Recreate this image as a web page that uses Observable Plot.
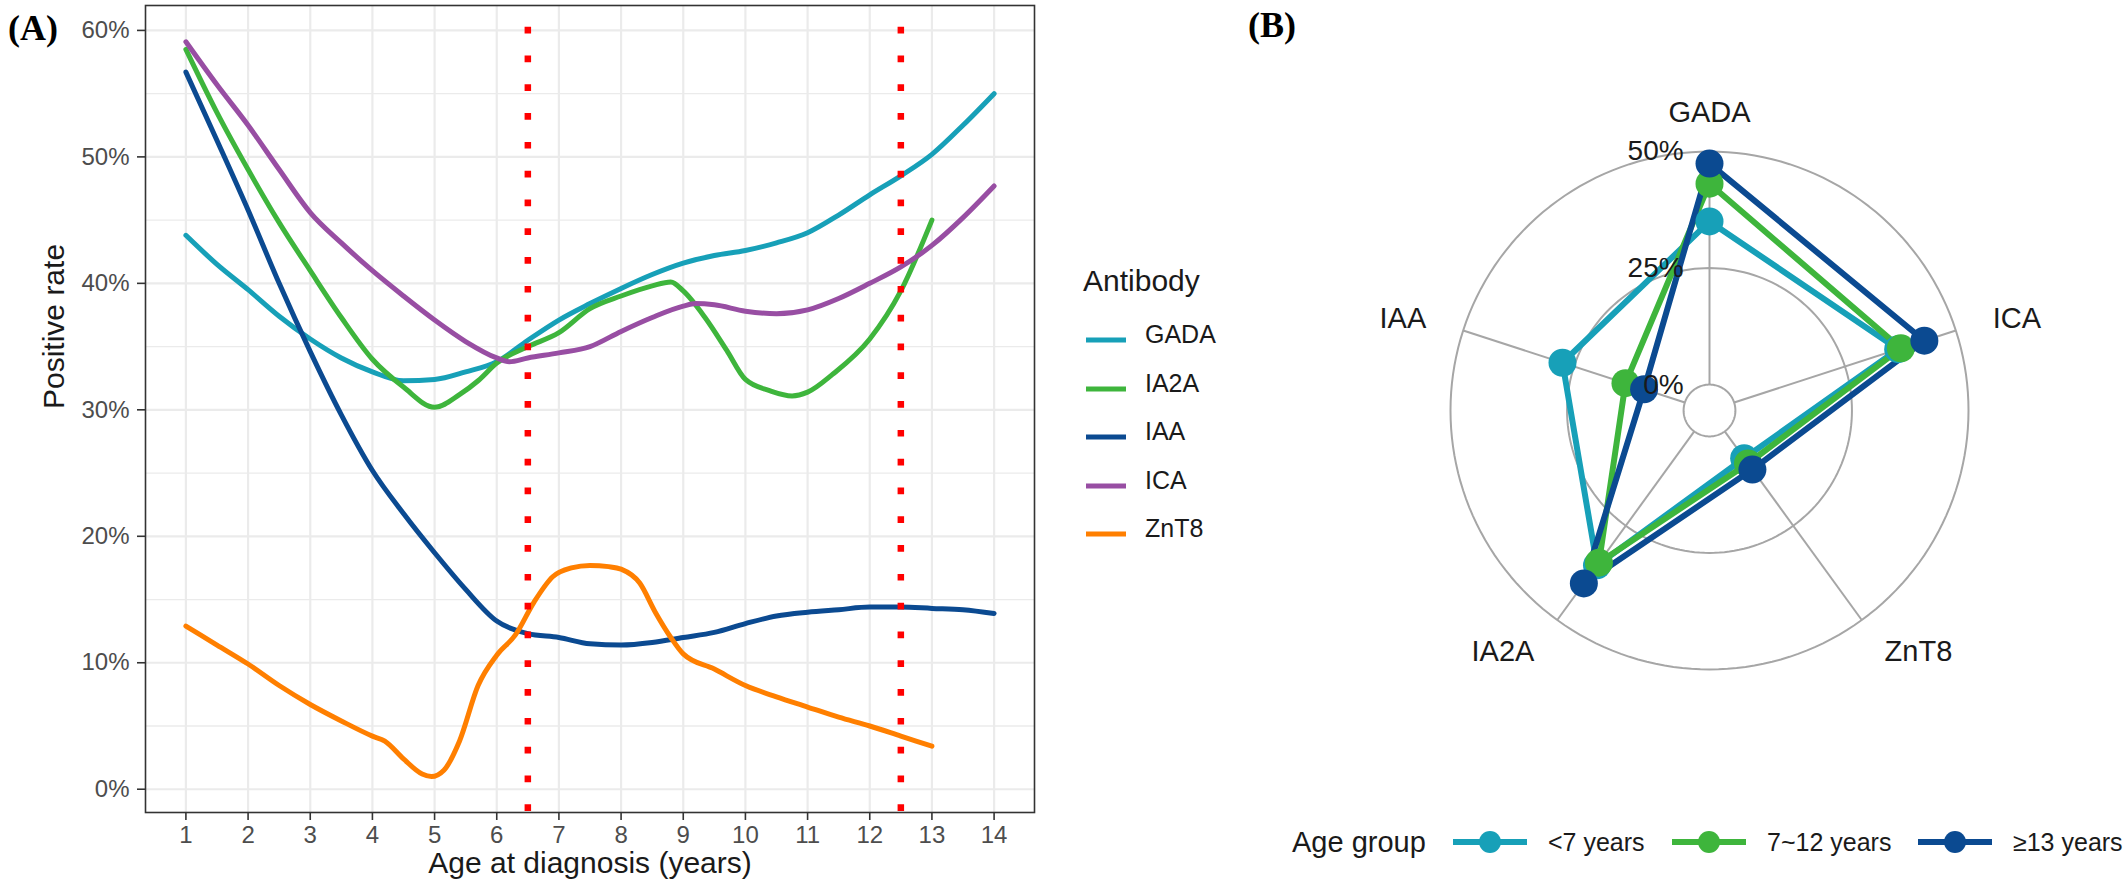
<!DOCTYPE html>
<html><head><meta charset="utf-8">
<script src="https://cdn.jsdelivr.net/npm/d3@7"></script>
<script src="https://cdn.jsdelivr.net/npm/@observablehq/plot@0.6"></script>
<style>
html,body{margin:0;padding:0;background:#fff;}
#root{position:relative;width:2128px;height:890px;overflow:hidden;font-family:"Liberation Sans",Arial,sans-serif;color:#1a1a1a;}
.abs{position:absolute;white-space:nowrap;}
.mid{transform:translateY(-50%);}
</style></head><body><div id="root"></div>
<script>
// ---------- Panel A data ----------
const antibodies = ["GADA", "IA2A", "IAA", "ICA", "ZnT8"];
const antibodyColors = ["#17a0b8", "#3eb53c", "#0b4a91", "#984ea3", "#ff7f00"];

const gadaAge  = [1, 1.5, 2, 2.5, 3, 3.5, 4, 4.5, 5, 5.5, 6, 6.5, 7, 7.5, 8, 8.5, 9, 9.5, 10, 10.5, 11, 11.5, 12, 12.5, 13, 13.5, 14];
const gadaRate = [43.8, 41.5, 39.5, 37.4, 35.6, 34.1, 33.0, 32.3, 32.4, 33.0, 33.8, 35.5, 37.1, 38.4, 39.6, 40.7, 41.6, 42.2, 42.6, 43.2, 44.0, 45.4, 47.0, 48.5, 50.2, 52.5, 55.0];

const ia2aAge  = [1, 1.5, 2, 2.5, 3, 3.5, 4, 4.5, 5, 5.4, 5.7, 6, 6.5, 7, 7.5, 8, 8.5, 8.8, 9, 9.35, 9.7, 10, 10.4, 10.75, 11, 11.4, 12, 12.5, 13];
const ia2aRate = [58.5, 53.5, 49.0, 44.8, 41.0, 37.3, 34.0, 31.8, 30.2, 31.2, 32.3, 33.7, 35.0, 36.1, 38.0, 39.0, 39.8, 40.1, 39.4, 37.3, 34.7, 32.4, 31.5, 31.1, 31.4, 32.8, 35.6, 39.4, 45.0];

const iaaAge  = [1, 1.5, 2, 2.5, 3, 3.5, 4, 4.5, 5, 5.5, 6, 6.5, 7, 7.5, 8, 8.5, 9, 9.5, 10, 10.5, 11, 11.5, 12, 12.5, 13, 13.5, 14];
const iaaRate = [56.7, 51.3, 45.8, 40.0, 34.6, 29.6, 25.2, 21.8, 18.7, 15.8, 13.3, 12.3, 12.0, 11.5, 11.4, 11.6, 12.0, 12.4, 13.1, 13.7, 14.0, 14.2, 14.4, 14.4, 14.3, 14.2, 13.9];

const icaAge  = [1, 1.5, 2, 2.5, 3, 3.5, 4, 4.5, 5, 5.5, 6, 6.2, 6.5, 7, 7.5, 8, 8.5, 9, 9.2, 9.5, 10, 10.5, 11, 11.5, 12, 12.5, 13, 13.5, 14];
const icaRate = [59.1, 55.7, 52.5, 49.0, 45.6, 43.2, 41.0, 39.0, 37.1, 35.4, 34.1, 33.8, 34.1, 34.5, 35.0, 36.2, 37.3, 38.2, 38.4, 38.3, 37.8, 37.6, 37.9, 38.8, 40.0, 41.3, 43.0, 45.2, 47.7];

const znt8Age  = [1, 1.5, 2, 2.5, 3, 3.5, 4, 4.2, 4.5, 4.8, 4.95, 5.15, 5.4, 5.7, 6, 6.3, 6.6, 6.9, 7.2, 7.5, 7.8, 8, 8.3, 8.55, 8.8, 9, 9.5, 10, 10.5, 11, 11.5, 12, 12.5, 13];
const znt8Rate = [12.9, 11.4, 9.9, 8.2, 6.7, 5.4, 4.2, 3.8, 2.4, 1.2, 1.0, 1.5, 3.8, 8.2, 10.6, 12.2, 14.8, 16.8, 17.5, 17.7, 17.6, 17.4, 16.3, 14.0, 12.0, 10.7, 9.5, 8.2, 7.3, 6.5, 5.7, 5.0, 4.2, 3.4];

const cutoffAges = [6.5, 12.5];
const xTicks = [1, 2, 3, 4, 5, 6, 7, 8, 9, 10, 11, 12, 13, 14];
const yTicks = [0, 10, 20, 30, 40, 50, 60];
const yMinorTicks = [5, 15, 25, 35, 45, 55];

// ---------- Panel B data ----------
const radarAxes = ["GADA", "ICA", "ZnT8", "IA2A", "IAA"];
const ageGroups = ["<7 years", "7~12 years", "≥13 years"];
const ageGroupColors = ["#17a0b8", "#3eb53c", "#0b4a91"];
const under7Rates  = [35.0, 37.0, 7.1, 35.5, 27.6];
const age7to12Rates = [43.1, 37.6, 8.5, 34.8, 13.4];
const over13Rates  = [47.4, 42.9, 10.1, 40.3, 9.2];
const radarGrid = [0, 25, 50];

// ---------- build ----------
const root = document.getElementById("root");
const FONT = "Liberation Sans, Arial, sans-serif";

const seriesList = [
  {name: "GADA", age: gadaAge, rate: gadaRate},
  {name: "IA2A", age: ia2aAge, rate: ia2aRate},
  {name: "IAA", age: iaaAge, rate: iaaRate},
  {name: "ICA", age: icaAge, rate: icaRate},
  {name: "ZnT8", age: znt8Age, rate: znt8Rate}
];
const lineRows = [];
seriesList.forEach(s => s.age.forEach((a, i) => lineRows.push({antibody: s.name, age: a, rate: s.rate[i]})));

const left = Plot.plot({
  width: 1064, height: 890,
  marginLeft: 145, marginRight: 30, marginTop: 5, marginBottom: 78,
  style: {background: "transparent", fontFamily: FONT, overflow: "visible"},
  x: {domain: [0.35, 14.65]},
  y: {domain: [-1.84, 61.97]},
  color: {domain: antibodies, range: antibodyColors},
  marks: [
    Plot.gridY(yMinorTicks, {stroke: "#ebebeb", strokeOpacity: 1, strokeWidth: 1.3}),
    Plot.gridY(yTicks, {stroke: "#ebebeb", strokeOpacity: 1, strokeWidth: 2.2}),
    Plot.gridX(xTicks, {stroke: "#ebebeb", strokeOpacity: 1, strokeWidth: 2.2}),
    Plot.line(lineRows, {x: "age", y: "rate", z: "antibody", stroke: "antibody", strokeWidth: 5, curve: "monotone-x"}),
    Plot.ruleX(cutoffAges, {stroke: "#ff0000", strokeWidth: 6.5, strokeDasharray: "6.7,22.1", strokeDashoffset: 7.1}),
    Plot.frame({stroke: "#333333", strokeWidth: 1.6}),
    Plot.axisX(xTicks, {tickSize: 8, tickPadding: 5, fontSize: 24, stroke: "#333333", strokeWidth: 1.6, fill: "#4d4d4d", label: null, tickFormat: d => String(d)}),
    Plot.axisY(yTicks, {tickSize: 8, tickPadding: 8, fontSize: 24, stroke: "#333333", strokeWidth: 1.6, fill: "#4d4d4d", label: null, tickFormat: d => d + "%"}),
    Plot.text(["Age at diagnosis (years)"], {frameAnchor: "bottom", dy: 60, fontSize: 30, fill: "#1a1a1a"}),
    Plot.text(["Positive rate"], {frameAnchor: "left", dx: -91, rotate: -90, fontSize: 30, fill: "#1a1a1a"})
  ]
});
left.style.position = "absolute"; left.style.left = "0px"; left.style.top = "0px";
root.appendChild(left);

// ---------- radar ----------
const centreOffset = 50 / 9;               // ggradar centre.y offset
const outer = 50 + centreOffset;
const RW = 898, RH = 890, RX0 = 1230;
const k = 259 / outer;                      // px per unit
const cx = 1709 - RX0, cy = 410;
const ang = i => i * 2 * Math.PI / radarAxes.length;
const polar = (v, i) => ({x: (v + centreOffset) * Math.sin(ang(i)), y: (v + centreOffset) * Math.cos(ang(i))});

const groupRates = [under7Rates, age7to12Rates, over13Rates];
const radarRows = [];
groupRates.forEach((vals, g) => vals.forEach((v, i) => radarRows.push({group: ageGroups[g], axis: radarAxes[i], value: v, ...polar(v, i)})));

const circleRows = [];
radarGrid.forEach(level => d3.range(0, 361, 2).forEach(a => {
  const t = a * Math.PI / 180, r = level + centreOffset;
  circleRows.push({level, x: r * Math.sin(t), y: r * Math.cos(t)});
}));
const spokes = radarAxes.map((ax, i) => ({axis: ax, x1: polar(0, i).x, y1: polar(0, i).y, x2: polar(50, i).x, y2: polar(50, i).y}));
const labelR = 1.15 * outer;
const axisLabels = radarAxes.map((ax, i) => ({axis: ax, x: labelR * Math.sin(ang(i)), y: labelR * Math.cos(ang(i))}));

const radar = Plot.plot({
  width: RW, height: RH, margin: 0,
  style: {background: "transparent", fontFamily: FONT, overflow: "visible"},
  x: {domain: [-cx / k, (RW - cx) / k], axis: null},
  y: {domain: [-(RH - cy) / k, cy / k], axis: null},
  color: {domain: ageGroups, range: ageGroupColors},
  marks: [
    Plot.line(circleRows, {x: "x", y: "y", z: "level", stroke: "#a6a6a6", strokeWidth: 2}),
    Plot.link(spokes, {x1: "x1", y1: "y1", x2: "x2", y2: "y2", stroke: "#a6a6a6", strokeWidth: 2}),
    Plot.text(axisLabels.filter(d => Math.abs(d.x) < 1e-6), {x: "x", y: "y", text: "axis", textAnchor: "middle", fontSize: 29, fill: "#1a1a1a"}),
    Plot.text(axisLabels.filter(d => d.x > 1e-6), {x: "x", y: "y", text: "axis", textAnchor: "start", fontSize: 29, fill: "#1a1a1a"}),
    Plot.text(axisLabels.filter(d => d.x < -1e-6), {x: "x", y: "y", text: "axis", textAnchor: "end", fontSize: 29, fill: "#1a1a1a"}),
    Plot.line(radarRows, {x: "x", y: "y", z: "group", stroke: "group", strokeWidth: 6, curve: "linear-closed", strokeLinejoin: "round"}),
    Plot.dot(radarRows, {x: "x", y: "y", fill: "group", r: 14}),
    Plot.text(radarGrid, {x: -centreOffset, y: d => d + centreOffset, text: d => d + "%", textAnchor: "end", fontSize: 28, fill: "#1a1a1a"})
  ]
});
radar.style.position = "absolute"; radar.style.left = RX0 + "px"; radar.style.top = "0px";
root.appendChild(radar);

// ---------- HTML legends & panel tags ----------
function addText(txt, x, y, css) {
  const d = document.createElement("div");
  d.className = "abs mid"; d.textContent = txt;
  d.style.left = x + "px"; d.style.top = y + "px";
  Object.assign(d.style, css || {});
  root.appendChild(d); return d;
}
function addSvg(x, y, w, h, inner) {
  const d = document.createElement("div");
  d.className = "abs"; d.style.left = x + "px"; d.style.top = y + "px";
  d.innerHTML = `<svg width="${w}" height="${h}" xmlns="http://www.w3.org/2000/svg">${inner}</svg>`;
  root.appendChild(d);
}
addText("(A)", 8, 28, {fontFamily: "Liberation Serif, serif", fontWeight: "bold", fontSize: "36px", color: "#000", lineHeight: "36px"});
addText("(B)", 1248, 25, {fontFamily: "Liberation Serif, serif", fontWeight: "bold", fontSize: "36px", color: "#000", lineHeight: "36px"});

addText("Antibody", 1083, 281, {fontSize: "30px", lineHeight: "30px"});
antibodies.forEach((name, i) => {
  const y = 334 + i * 48.5;
  addSvg(1086, y - 4, 40, 8, `<line x1="0" x2="40" y1="4" y2="4" stroke="${antibodyColors[i]}" stroke-width="5"/>`);
  addText(name, 1145, y, {fontSize: "25px", lineHeight: "25px"});
});

addText("Age group", 1292, 842, {fontSize: "29px", lineHeight: "29px"});
const keyX = [1453, 1672, 1918];
ageGroups.forEach((g, i) => {
  addSvg(keyX[i], 842 - 14, 74, 28, `<line x1="0" x2="74" y1="14" y2="14" stroke="${ageGroupColors[i]}" stroke-width="6"/><circle cx="37" cy="14" r="11" fill="${ageGroupColors[i]}"/>`);
  addText(g, keyX[i] + 95, 842, {fontSize: "25px", lineHeight: "25px"});
});
</script></body></html>
